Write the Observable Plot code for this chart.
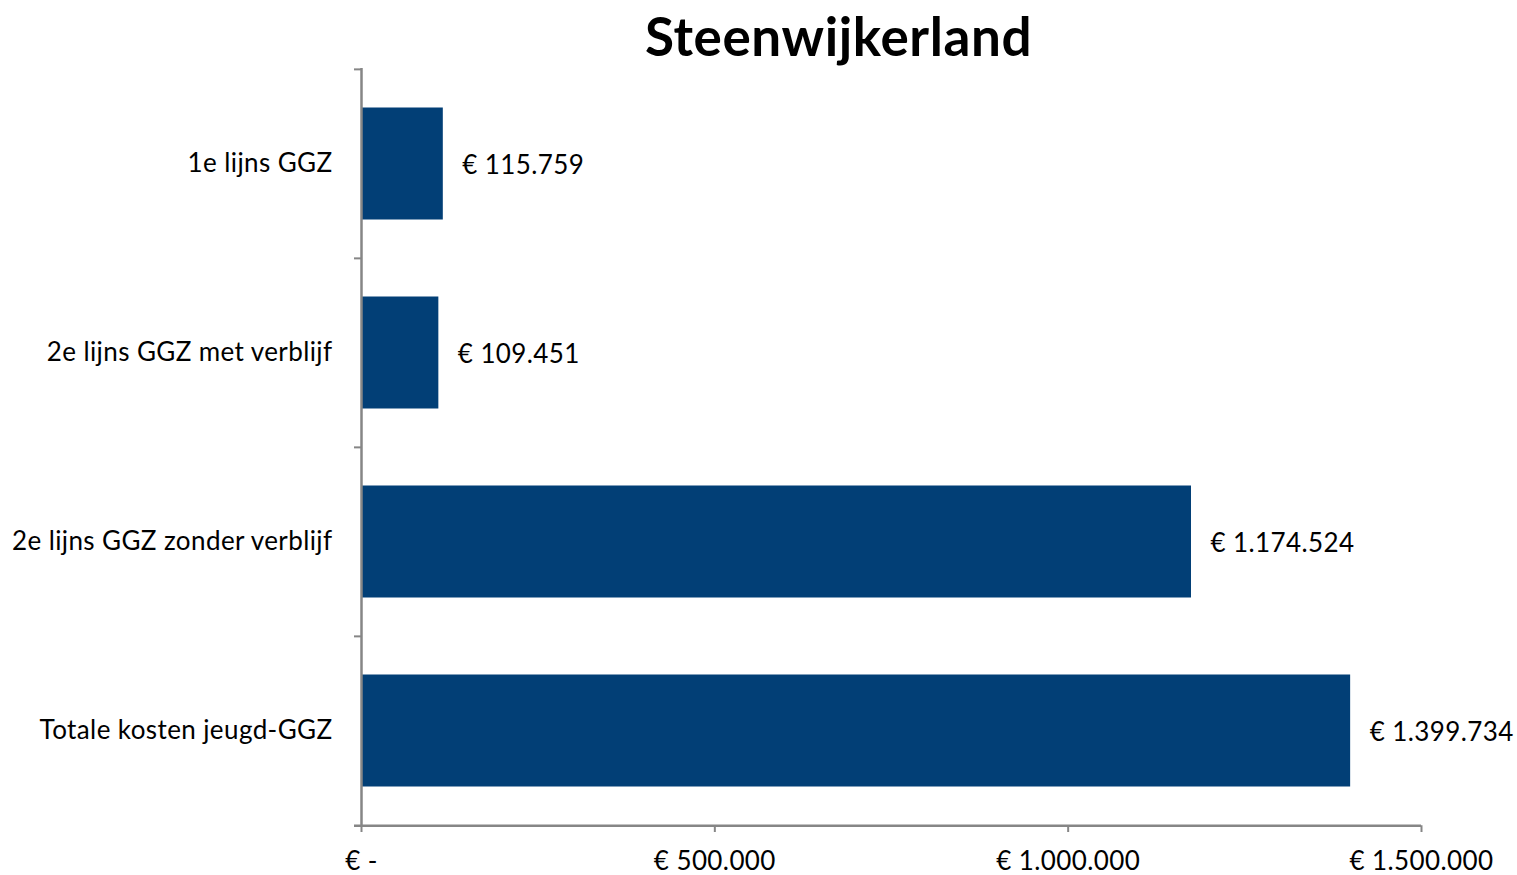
<!DOCTYPE html>
<html>
<head>
<meta charset="utf-8">
<script src="https://cdn.jsdelivr.net/npm/d3@7"></script>
<script src="https://cdn.jsdelivr.net/npm/@observablehq/plot@0.6"></script>
<style>
  html, body { margin: 0; padding: 0; background: #fff; }
  #wrap { width: 1517px; height: 875px; position: relative; }
  #title { position: absolute; top: 0; left: 0; width: 1517px; text-align: center;
    font-family: Lato, "Open Sans", sans-serif; font-weight: 700; font-size: 53px;
    letter-spacing: 0.6px; line-height: 72px; padding-left: 160px; box-sizing: border-box; color: #000; }
  #chart { position: absolute; top: 68px; left: 0; }
  #chart text { letter-spacing: 0.4px; }
</style>
</head>
<body>
<div id="wrap">
  <div id="title">Steenwijkerland</div>
  <div id="chart"></div>
</div>
<script>
const categories = ["1e lijns GGZ", "2e lijns GGZ met verblijf", "2e lijns GGZ zonder verblijf", "Totale kosten jeugd-GGZ"];
const values = [115759, 109451, 1174524, 1399734];
const xTicks = [0, 500000, 1000000, 1500000];

const data = categories.map((c, i) => ({category: c, value: values[i]}));
const loc = d3.formatLocale({decimal: ",", thousands: ".", grouping: [3], currency: ["€ ", ""]});
const fmt = loc.format(",d");
const euro = v => v === 0 ? "€ -" : "€ " + fmt(v);

const height = 807;
const marginBottom = 50;
const step = (height - marginBottom) / categories.length;
const tickLen = 7 / 1060 * 1500000;

const chart = Plot.plot({
  width: 1517,
  height,
  marginLeft: 361,
  marginRight: 96,
  marginTop: 0,
  marginBottom,
  style: {fontFamily: "Lato, 'Open Sans', sans-serif", fontSize: "26px", color: "#000", background: "#fff", overflow: "visible"},
  x: {domain: [0, 1500000], axis: null},
  y: {domain: categories, padding: 0, axis: null},
  marks: [
    Plot.barX(data, {x: "value", y: "category", fill: "#023F76", insetTop: 38.5, insetBottom: 38.5}),
    Plot.text(data, {x: "value", y: "category", text: d => euro(d.value), textAnchor: "start", dx: 19, dy: 2, fontSize: 26, fill: "#000"}),
    Plot.axisY({tickSize: 0, tickPadding: 29, fontSize: 26, label: null}),
    // vertical axis line
    Plot.ruleX([0], {stroke: "#868686", strokeWidth: 2.5}),
    // y tick marks at band boundaries
    Plot.ruleY(categories, {y: d => d, dy: -step / 2, x1: -tickLen, x2: 0, stroke: "#868686", strokeWidth: 2}),
    // horizontal axis line
    Plot.ruleY([categories[categories.length - 1]], {dy: step / 2, x1: -tickLen, x2: 1500000, stroke: "#868686", strokeWidth: 2.5}),
    Plot.tickX(xTicks, {x: d => d, y: () => categories[categories.length - 1], dy: 7, insetTop: step - 7, stroke: "#868686", strokeWidth: 2}),
    Plot.axisX(xTicks, {tickSize: 0, tickPadding: 26, tickFormat: euro, fontSize: 26, label: null})
  ]
});
document.getElementById("chart").appendChild(chart);
</script>
</body>
</html>
